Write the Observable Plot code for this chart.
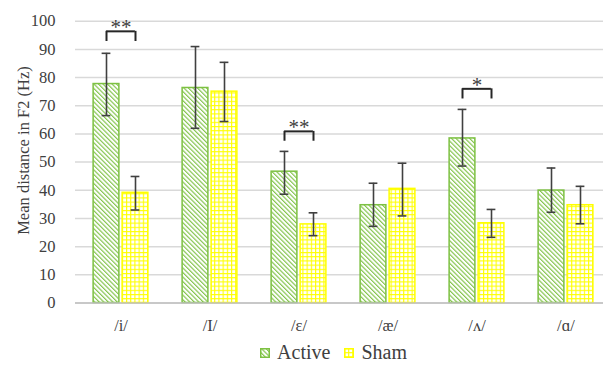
<!DOCTYPE html>
<html><head><meta charset="utf-8">
<script src="https://cdn.jsdelivr.net/npm/d3@7"></script>
<script src="https://cdn.jsdelivr.net/npm/@observablehq/plot@0.6"></script>
<style>
body{margin:0;background:#fff;font-family:'Liberation Serif',serif;}
#legend{height:25px;display:flex;justify-content:center;align-items:center;font-size:20px;color:#404040;font-family:'Liberation Serif',serif;padding-left:64px;}
#legend .item{display:flex;align-items:center;}
#legend svg{margin-right:7px;}
#legend .item + .item{margin-left:14px;}
</style></head><body><div id="chart"></div><div id="legend"></div>
<script>
const categories = ["/i/", "/I/", "/ɛ/", "/æ/", "/ʌ/", "/ɑ/"];
const seriesNames = ["Active", "Sham"];
const activeMean = [77.7, 76.3, 46.6, 34.7, 58.4, 39.9];
const activeLow  = [66.5, 62.0, 38.6, 27.2, 48.6, 32.2];
const activeHigh = [88.6, 91.0, 53.8, 42.5, 68.7, 47.9];
const shamMean = [39.1, 75.0, 27.9, 40.5, 28.3, 34.7];
const shamLow  = [33.0, 64.4, 23.9, 30.9, 23.3, 28.1];
const shamHigh = [44.9, 85.4, 32.0, 49.6, 33.2, 41.4];
const sigCategories = ["/i/", "/ɛ/", "/ʌ/"];
const sigTop = [96.4, 60.9, 76.0];
const sigBottom = [92.8, 57.4, 72.4];
const sigLabels = ["**", "**", "*"];
const yTicks = [0, 10, 20, 30, 40, 50, 60, 70, 80, 90, 100];
const yTitle = "Mean distance in F2 (Hz)";

const active = categories.map((c, i) => ({cat: c, mean: activeMean[i], low: activeLow[i], high: activeHigh[i]}));
const sham = categories.map((c, i) => ({cat: c, mean: shamMean[i], low: shamLow[i], high: shamHigh[i]}));
const sig = sigCategories.map((c, i) => ({cat: c, top: sigTop[i], bottom: sigBottom[i], label: sigLabels[i]}));

const W = 603, H = 340;
const x0 = 75.7, x1 = 611.1;
const bw = (x1 - x0) / categories.length;
const half = bw / 2;
const off = 14.5;
const barW = 26;
const capHalf = 4.5;
const green = "#7dc142", yellow = "#ffff00", dark = "#404040";
const serif = "'Liberation Serif', serif";

const barInsetOuter = half - off - barW / 2;
const barInsetInner = half + off - barW / 2;

const plot = Plot.plot({
  width: W, height: H,
  marginLeft: 75, marginRight: 0, marginTop: 20.7, marginBottom: 37.5,
  style: {fontFamily: serif, fontSize: "16px", color: dark, background: "#fff", overflow: "visible"},
  x: {domain: categories, range: [x0, x1], padding: 0},
  y: {domain: [0, 100]},
  marks: [
    Plot.gridY(yTicks, {stroke: "#d9d9d9", strokeOpacity: 1, strokeWidth: 1.5}),
    Plot.barY(active, {x: "cat", y: "mean", fill: "url(#hatchActive)", stroke: green, strokeWidth: 1.5, insetLeft: barInsetOuter, insetRight: barInsetInner}),
    Plot.barY(sham, {x: "cat", y: "mean", fill: "url(#gridSham)", stroke: yellow, strokeWidth: 1.5, insetLeft: barInsetInner, insetRight: barInsetOuter}),
    Plot.ruleY([0], {stroke: "#bfbfbf", strokeWidth: 1.5}),
    Plot.ruleX(active, {x: "cat", y1: "low", y2: "high", dx: -off, stroke: dark, strokeWidth: 1.6}),
    Plot.ruleX(sham, {x: "cat", y1: "low", y2: "high", dx: off, stroke: dark, strokeWidth: 1.6}),
    Plot.tickY(active, {x: "cat", y: "low", stroke: dark, strokeWidth: 1.6, insetLeft: half - off - capHalf, insetRight: half + off - capHalf}),
    Plot.tickY(active, {x: "cat", y: "high", stroke: dark, strokeWidth: 1.6, insetLeft: half - off - capHalf, insetRight: half + off - capHalf}),
    Plot.tickY(sham, {x: "cat", y: "low", stroke: dark, strokeWidth: 1.6, insetLeft: half + off - capHalf, insetRight: half - off - capHalf}),
    Plot.tickY(sham, {x: "cat", y: "high", stroke: dark, strokeWidth: 1.6, insetLeft: half + off - capHalf, insetRight: half - off - capHalf}),
    Plot.tickY(sig, {x: "cat", y: "top", stroke: "#262626", strokeWidth: 2, insetLeft: half - off, insetRight: half - off}),
    Plot.ruleX(sig, {x: "cat", y1: "bottom", y2: "top", dx: -off, stroke: "#262626", strokeWidth: 2}),
    Plot.ruleX(sig, {x: "cat", y1: "bottom", y2: "top", dx: off, stroke: "#262626", strokeWidth: 2}),
    Plot.text(sig, {x: "cat", y: "top", text: "label", lineAnchor: "bottom", dy: 3, fontSize: 21, fill: dark, fontFamily: serif}),
    Plot.axisY({ticks: yTicks, tickSize: 0, tickPadding: 20, label: null, fontSize: 16.5, fontFamily: serif}),
    Plot.text([yTitle], {frameAnchor: "left", rotate: -90, textAnchor: "middle", lineAnchor: "middle", dx: -52, dy: -11.6, fontSize: 16.5, fontFamily: serif, fill: dark}),
    Plot.axisX({tickSize: 0, tickPadding: 16, label: null, fontSize: 16.5, fontFamily: serif})
  ]
});

const svg = d3.select(plot);
const defs = svg.insert("defs", ":first-child");
const pa = defs.append("pattern").attr("id", "hatchActive").attr("patternUnits", "userSpaceOnUse")
  .attr("width", 3.2).attr("height", 3.2).attr("patternTransform", "rotate(-45)");
pa.append("rect").attr("width", 3.2).attr("height", 3.2).attr("fill", "#fff");
pa.append("line").attr("x1", 0.6).attr("y1", 0).attr("x2", 0.6).attr("y2", 3.2).attr("stroke", green).attr("stroke-width", 1.1);
const ps = defs.append("pattern").attr("id", "gridSham").attr("patternUnits", "userSpaceOnUse")
  .attr("width", 4.2).attr("height", 4.2);
ps.append("rect").attr("width", 4.2).attr("height", 4.2).attr("fill", yellow);
ps.append("rect").attr("x", 1.1).attr("y", 1.1).attr("width", 3.1).attr("height", 3.1).attr("fill", "#fff");

document.getElementById("chart").appendChild(plot);

const legend = d3.select("#legend");
const fills = ["url(#hatchActive)", "url(#gridSham)"];
const strokes = [green, yellow];
seriesNames.forEach((name, i) => {
  const item = legend.append("div").attr("class", "item");
  const s = item.append("svg").attr("width", 10).attr("height", 10);
  s.append("rect").attr("x", 0.75).attr("y", 0.75).attr("width", 8.5).attr("height", 8.5)
    .attr("fill", fills[i]).attr("stroke", strokes[i]).attr("stroke-width", 1.5);
  item.append("span").text(name);
});
</script></body></html>
